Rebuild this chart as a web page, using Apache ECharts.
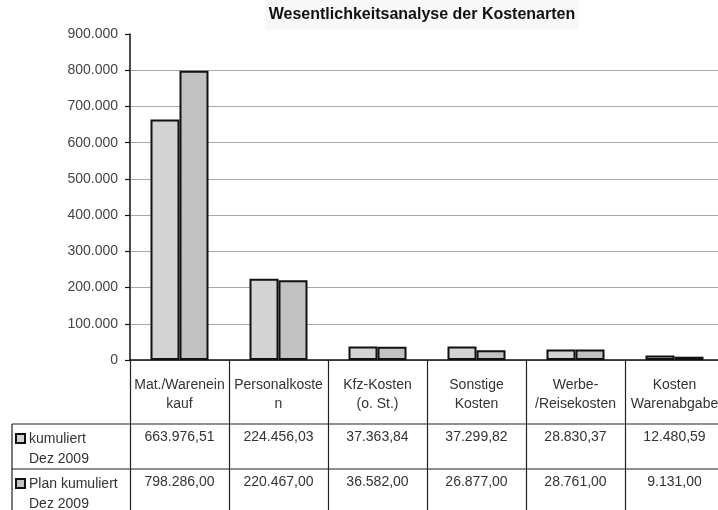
<!DOCTYPE html>
<html>
<head>
<meta charset="utf-8">
<script src="https://cdn.jsdelivr.net/npm/echarts@6/dist/echarts.min.js"></script>
<style>
  html, body { margin: 0; padding: 0; background: #fff; }
</style>
</head>
<body>
<div id="myChart" style="width: 718px; height: 510px"></div>
<script>
// Kostenarten (Zeilenumbruch wie im Original)
const categories = ["Mat./Warenein\nkauf", "Personalkoste\nn", "Kfz-Kosten\n(o. St.)", "Sonstige\nKosten", "Werbe-\n/Reisekosten", "Kosten\nWarenabgabe"];
const seriesNames = ["kumuliert\nDez 2009", "Plan kumuliert\nDez 2009"];
const kumuliert = [663976.51, 224456.03, 37363.84, 37299.82, 28830.37, 12480.59];
const planKumuliert = [798286.00, 220467.00, 36582.00, 26877.00, 28761.00, 9131.00];
const yTicks = [0, 100000, 200000, 300000, 400000, 500000, 600000, 700000, 800000, 900000];

const colors = ["#d3d3d3", "#c2c2c2"];
const font = "'Liberation Sans', Arial, sans-serif";

// deutsche Zahlenformatierung 1.234,56
function fmtNum(v, dec) {
  let s = v.toFixed(dec);
  let parts = s.split(".");
  let i = parts[0].replace(/\B(?=(\d{3})+(?!\d))/g, ".");
  return parts[1] ? i + "," + parts[1] : i;
}

let myChart = echarts.init(document.getElementById("myChart"));
myChart.setOption({
  animation: false,
  title: {
    text: "Wesentlichkeitsanalyse der Kostenarten",
    left: 418,
    textAlign: "center",
    top: 0,
    padding: [7, 4, 7, 4],
    backgroundColor: "#f8f8f8",
    textStyle: { fontFamily: font, fontSize: 16, fontWeight: "bold", color: "#111" },
  },
  // Plotfläche läuft rechts über den Bildrand hinaus (6 Spalten à 99px)
  grid: { left: 130, width: 594, top: 34, bottom: 150, outerBoundsMode: "none" },
  xAxis: {
    type: "category",
    data: categories,
    axisLine: { lineStyle: { color: "#111", width: 1.5 } },
    // Ticks bilden die senkrechten Tabellenlinien
    axisTick: { show: true, length: 150, lineStyle: { color: "#222", width: 1.2 } },
    axisLabel: {
      interval: 0,
      margin: 16,
      fontFamily: font,
      fontSize: 14,
      lineHeight: 19,
      color: "#333",
    },
  },
  yAxis: {
    type: "value",
    min: yTicks[0],
    max: yTicks[yTicks.length - 1],
    interval: yTicks[1] - yTicks[0],
    axisLine: { show: true, lineStyle: { color: "#111", width: 1.5 } },
    axisTick: { show: true, length: 5, lineStyle: { color: "#111", width: 1.2 } },
    axisLabel: {
      margin: 12,
      fontFamily: font,
      fontSize: 14,
      color: "#444",
      formatter: (v) => fmtNum(v, 0),
    },
    splitLine: { show: true, showMaxLine: false, lineStyle: { color: "#a8a8a8", width: 1.2 } },
  },
  series: [
    {
      name: seriesNames[0],
      type: "bar",
      data: kumuliert,
      barWidth: 29,
      barGap: "0%",
      itemStyle: { color: colors[0], borderColor: "#111", borderWidth: 2 },
    },
    {
      name: seriesNames[1],
      type: "bar",
      data: planKumuliert,
      barWidth: 29,
      barGap: "0%",
      itemStyle: { color: colors[1], borderColor: "#111", borderWidth: 2 },
    },
  ],
});

// Datentabelle unter der Achse
const rowTops = [424, 469];
const tableLeft = 12;
let graphic = [];
graphic.push({ type: "line", shape: { x1: tableLeft, y1: rowTops[0], x2: 718, y2: rowTops[0] }, style: { stroke: "#222", lineWidth: 1.2 } });
graphic.push({ type: "line", shape: { x1: tableLeft, y1: rowTops[1], x2: 718, y2: rowTops[1] }, style: { stroke: "#222", lineWidth: 1.2 } });
graphic.push({ type: "line", shape: { x1: tableLeft, y1: rowTops[0], x2: tableLeft, y2: 510 }, style: { stroke: "#222", lineWidth: 1.2 } });

[kumuliert, planKumuliert].forEach((vals, r) => {
  // Legendensymbol + Zeilenbeschriftung
  graphic.push({
    type: "rect",
    shape: { x: 16, y: rowTops[r] + 10, width: 9, height: 9 },
    style: { fill: colors[r], stroke: "#111", lineWidth: 2 },
  });
  graphic.push({
    type: "text",
    x: 29, y: rowTops[r] + 5,
    style: { text: seriesNames[r], font: "14px " + font, lineHeight: 20, fill: "#333" },
  });
  vals.forEach((v, i) => {
    let cx = myChart.convertToPixel({ xAxisIndex: 0 }, i);
    graphic.push({
      type: "text",
      x: cx, y: rowTops[r] + 6,
      style: { text: fmtNum(v, 2), font: "14px " + font, fill: "#333", align: "center" },
    });
  });
});
myChart.setOption({ graphic: graphic });
</script>
</body>
</html>
